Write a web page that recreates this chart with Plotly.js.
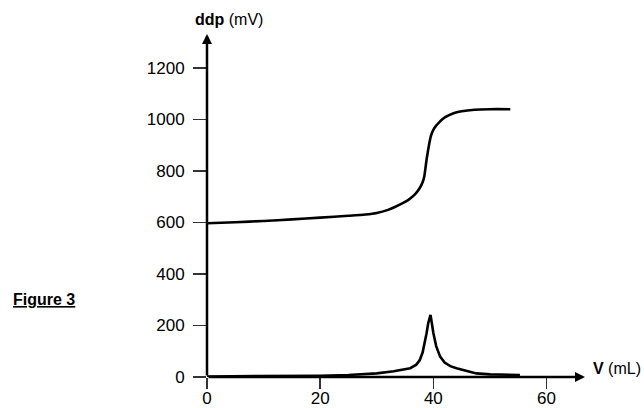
<!DOCTYPE html>
<html>
<head>
<meta charset="utf-8">
<script src="https://cdn.plot.ly/plotly-3.0.1.min.js"></script>
<style>
  html, body { margin: 0; padding: 0; background: #fff; }
  #chart { width: 644px; height: 408px; }
</style>
</head>
<body>
<div id="chart"></div>
<script>
// Potential curve (ddp vs V)
const volPotential = [0, 5, 10, 15, 20, 25, 28, 30, 32, 33.2, 34.5, 35.6, 36.7, 37.6, 38.1, 38.4, 38.6, 38.8, 39.05, 39.3, 39.6, 40.0, 40.5, 40.9, 41.7, 42.6, 43.7, 45.0, 47.3, 50.0, 53.6];
const ddpPotential = [597, 601, 606, 612, 619, 626, 631, 637, 649, 660, 674, 688, 708, 734, 756, 779, 810, 844, 878, 909, 938, 960, 976, 986, 1003, 1015, 1025, 1032, 1038, 1040, 1040];

// Derivative curve
const volDerivative = [0, 10, 20, 25, 30, 33, 35.9, 37.0, 37.6, 38.1, 38.5, 38.8, 39.1, 39.5, 39.8, 40.0, 40.5, 41.2, 42.0, 43.0, 44.1, 46.0, 47.6, 50.0, 55.3];
const ddpDerivative = [2, 3, 5, 8, 14, 22, 34, 48, 66, 95, 132, 170, 210, 241, 200, 171, 120, 79, 56, 42, 34, 22, 14, 10, 8];

const xTicks = [0, 20, 40, 60];
const yTicks = [0, 200, 400, 600, 800, 1000, 1200];
const xMax = 66.8;
const yMax = 1332;

const fontFam = '"Liberation Sans", Arial, sans-serif';

const traces = [
  {
    x: volPotential, y: ddpPotential, type: 'scatter', mode: 'lines',
    line: { color: '#000', width: 2.6, shape: 'spline', smoothing: 0.6 },
    hoverinfo: 'skip', showlegend: false
  },
  {
    x: volDerivative, y: ddpDerivative, type: 'scatter', mode: 'lines',
    line: { color: '#000', width: 2.6, shape: 'linear' },
    hoverinfo: 'skip', showlegend: false
  }
];

const layout = {
  width: 644, height: 408,
  margin: { l: 207, r: 59, t: 34, b: 31, pad: 0 },
  paper_bgcolor: '#fff', plot_bgcolor: '#fff',
  font: { family: fontFam, size: 17, color: '#000' },
  showlegend: false,
  xaxis: {
    range: [0, xMax], tickvals: xTicks, ticktext: xTicks.map(String),
    ticks: 'outside', ticklen: 11, tickwidth: 1.5, tickcolor: '#333',
    ticklabelstandoff: -5,
    showline: false, zeroline: false, showgrid: false, fixedrange: true,
    tickfont: { family: fontFam, size: 17, color: '#000' }
  },
  yaxis: {
    range: [0, yMax], tickvals: yTicks, ticktext: yTicks.map(String),
    ticks: 'outside', ticklen: 13, tickwidth: 1.5, tickcolor: '#333',
    ticklabelstandoff: 5,
    showline: false, zeroline: false, showgrid: false, fixedrange: true,
    tickfont: { family: fontFam, size: 17, color: '#000' }
  },
  annotations: [
    { x: xMax, y: 0, ax: 0, ay: 0, xref: 'x', yref: 'y', axref: 'x', ayref: 'y',
      text: '', showarrow: true, arrowhead: 2, arrowsize: 0.8, arrowwidth: 2.5, arrowcolor: '#000' },
    { x: 0, y: yMax, ax: 0, ay: 0, xref: 'x', yref: 'y', axref: 'x', ayref: 'y',
      text: '', showarrow: true, arrowhead: 2, arrowsize: 0.8, arrowwidth: 2.5, arrowcolor: '#000' },
    { text: '<b>ddp</b> (mV)', xref: 'paper', yref: 'paper',
      x: (193 - 207) / 378, y: 1 + (34 - 20) / 343, xanchor: 'left', yanchor: 'middle',
      showarrow: false, font: { family: fontFam, size: 16, color: '#000' } },
    { text: '<b>V</b> (mL)', xref: 'paper', yref: 'paper',
      x: (591 - 207) / 378, y: (377 - 368) / 343, xanchor: 'left', yanchor: 'middle',
      showarrow: false, font: { family: fontFam, size: 16, color: '#000' } },
    { text: '<b><u>Figure 3</u></b>', xref: 'paper', yref: 'paper',
      x: (11 - 207) / 378, y: (377 - 299) / 343, xanchor: 'left', yanchor: 'middle',
      showarrow: false, font: { family: fontFam, size: 16, color: '#000' } }
  ]
};

Plotly.newPlot('chart', traces, layout, { displayModeBar: false, staticPlot: true });
</script>
</body>
</html>
